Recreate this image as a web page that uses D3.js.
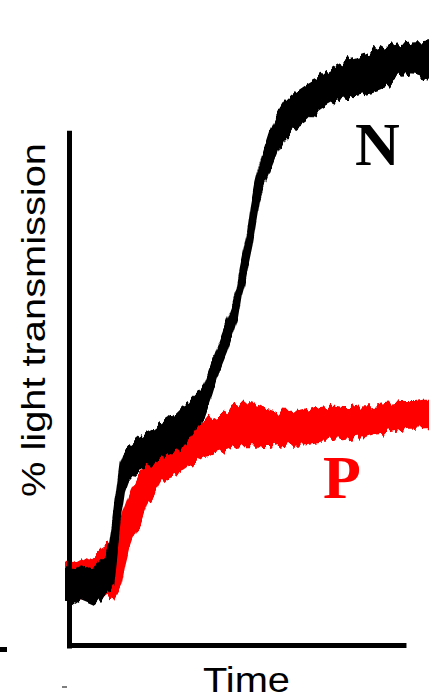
<!DOCTYPE html>
<html>
<head>
<meta charset="utf-8">
<script src="https://cdn.jsdelivr.net/npm/d3@7"></script>
<style>
  body { margin: 0; background: #fff; }
  #container { width: 429px; height: 699px; }
  .axis path { stroke: #000; stroke-width: 5; }
</style>
</head>
<body>
<div id="container"></div>
<script>
let WIDTH = 429;
let HEIGHT = 699;

// time samples (arbitrary units, 0..100)
let time = [0, 2, 4, 6, 8, 10,
  11, 12, 13, 14, 15, 16, 17, 18,
  20, 22, 24, 26, 28, 30, 32, 34, 36, 38, 40, 42, 44, 46,
  47, 48, 49, 50, 51, 52, 53, 54,
  56, 58, 60, 62, 64, 66, 68, 70, 72, 74, 76, 78, 80, 82, 84, 86, 88, 90, 92, 94, 96, 98, 100];

// N trace: upper / lower edge of the noisy band (% light transmission)
let nTop = [12.8, 12.3, 13.2, 12.5, 13.0, 14.2,
  14.8, 16.7, 20.8, 25.8, 30.5, 32.2, 33.0, 33.5,
  34.5, 35.2, 35.8, 36.7, 37.5, 38.5, 39.7, 40.5, 41.7, 43.3, 46.7, 50.0, 53.3, 56.7,
  59.2, 62.8, 65.8, 68.8, 73.3, 76.7, 79.2, 81.7,
  85.5, 88.3, 90.3, 91.5, 92.5, 93.3, 94.0, 94.5, 95.5, 96.2, 96.8, 97.5, 97.8, 98.2, 98.7, 99.2, 99.7, 99.8, 100.0, 100.2, 100.3, 100.3, 100.5];
let nBottom = [7.5, 7.0, 7.8, 7.3, 6.8, 8.2,
  8.5, 9.2, 10.3, 15.8, 21.7, 25.8, 27.5, 28.2,
  29.2, 29.8, 30.3, 31.2, 32.0, 32.5, 33.0, 34.7, 36.5, 38.3, 41.7, 45.8, 48.8, 52.5,
  54.5, 58.3, 60.5, 63.8, 66.7, 70.5, 74.2, 76.2,
  79.3, 82.3, 84.5, 85.8, 86.7, 87.5, 88.7, 89.5, 90.2, 90.8, 91.2, 91.3, 91.7, 92.0, 92.3, 92.7, 93.2, 94.2, 95.2, 95.3, 95.2, 94.8, 94.5];

// P trace
let pTop = [14.2, 13.8, 14.5, 14.0, 15.0, 16.3,
  16.7, 16.7, 16.2, 18.3, 20.0, 22.5, 24.2, 25.8,
  28.3, 29.8, 30.8, 32.2, 33.2, 34.2, 35.0, 36.2, 36.8, 37.5, 37.8, 38.2, 38.8, 39.7,
  39.8, 40.2, 40.2, 40.3, 40.3, 40.0, 39.8, 39.5,
  39.2, 38.8, 38.7, 38.7, 38.5, 38.8, 39.2, 39.5, 39.7, 39.7, 39.5, 39.5, 39.7, 39.8, 39.8, 40.0, 40.2, 40.3, 40.5, 40.5, 40.5, 40.7, 40.7];
let pBottom = [7.8, 7.8, 7.8, 7.8, 7.8, 8.3,
  8.3, 8.0, 7.8, 8.8, 10.0, 13.3, 15.8, 17.5,
  20.0, 23.3, 25.0, 27.2, 28.2, 28.7, 29.2, 30.0, 30.8, 31.5, 31.8, 32.2, 32.5, 33.0,
  33.2, 33.3, 33.3, 33.3, 33.3, 33.2, 33.2, 33.0,
  33.0, 33.3, 33.5, 33.7, 33.7, 33.8, 34.0, 34.2, 34.2, 34.2, 34.3, 34.5, 34.7, 34.8, 35.2, 35.3, 35.5, 35.8, 36.0, 36.2, 36.2, 36.3, 36.3];

let xAxisEnd = 93.4;
let yAxisTop = 85.8;

let svg = d3.select('#container')
  .append('svg')
  .attr('width', WIDTH)
  .attr('height', HEIGHT);

let x = d3.scaleLinear().domain([0, 100]).range([66, 430]);
let y = d3.scaleLinear().domain([0, 100]).range([645, 45]);

// rough vertical noise on the band edges
let defs = svg.append('defs');
let filter = defs.append('filter').attr('id', 'rough')
  .attr('x', '-5%').attr('y', '-5%').attr('width', '110%').attr('height', '110%');
filter.append('feTurbulence')
  .attr('type', 'fractalNoise')
  .attr('baseFrequency', '0.22 0.03')
  .attr('numOctaves', 2)
  .attr('seed', 3)
  .attr('result', 'noise');
filter.append('feColorMatrix')
  .attr('in', 'noise')
  .attr('type', 'matrix')
  .attr('values', '0 0 0 0 0.5  0 1 0 0 0  0 0 0 0 0  0 0 0 0 1')
  .attr('result', 'shift');
filter.append('feDisplacementMap')
  .attr('in', 'SourceGraphic')
  .attr('in2', 'shift')
  .attr('scale', 15)
  .attr('xChannelSelector', 'R')
  .attr('yChannelSelector', 'G');

function band(top, bottom) {
  return d3.area()
    .x((d, i) => x(time[i]))
    .y0((d, i) => y(bottom[i]))
    .y1((d, i) => y(top[i]))(time);
}

svg.append('path')
  .attr('d', band(pTop, pBottom))
  .attr('fill', '#ff0000')
  .attr('stroke', '#ff0000')
  .attr('stroke-width', 2)
  .attr('filter', 'url(#rough)');

svg.append('path')
  .attr('d', band(nTop, nBottom))
  .attr('fill', '#000')
  .attr('stroke', '#000')
  .attr('stroke-width', 2)
  .attr('filter', 'url(#rough)');

// axes: plain lines, no ticks
let xAxisScale = x.copy().domain([0, xAxisEnd]).range([67, x(xAxisEnd)]);
let yAxisScale = y.copy().domain([0, yAxisTop]).range([648, y(yAxisTop)]);

svg.append('g')
  .attr('class', 'axis')
  .attr('transform', 'translate(0,645)')
  .call(d3.axisBottom(xAxisScale).tickValues([]).tickSizeOuter(0));

svg.append('g')
  .attr('class', 'axis')
  .attr('transform', 'translate(69,0)')
  .call(d3.axisLeft(yAxisScale).tickValues([]).tickSizeOuter(0));

svg.append('text')
  .attr('transform', 'translate(45,320) rotate(-90)')
  .attr('text-anchor', 'middle')
  .attr('font-family', 'Liberation Sans, Arial, sans-serif')
  .attr('font-size', 33)
  .attr('textLength', 354)
  .attr('lengthAdjust', 'spacingAndGlyphs')
  .text('% light transmission');

svg.append('text')
  .attr('x', 246.5)
  .attr('y', 692)
  .attr('text-anchor', 'middle')
  .attr('font-family', 'Liberation Sans, Arial, sans-serif')
  .attr('font-size', 35)
  .attr('textLength', 87)
  .attr('lengthAdjust', 'spacingAndGlyphs')
  .text('Time');

svg.append('text')
  .attr('x', 355)
  .attr('y', 165)
  .attr('font-family', 'Liberation Serif, Times New Roman, serif')
  .attr('font-weight', 'bold')
  .attr('font-size', 62)
  .attr('fill', '#000')
  .text('N');

svg.append('text')
  .attr('x', 323)
  .attr('y', 498)
  .attr('font-family', 'Liberation Serif, Times New Roman, serif')
  .attr('font-weight', 'bold')
  .attr('font-size', 62)
  .attr('fill', '#ff0000')
  .text('P');

// stray marks at the lower left of the figure
svg.append('rect').attr('x', 0).attr('y', 647).attr('width', 7).attr('height', 5).attr('fill', '#000');
svg.append('rect').attr('x', 62).attr('y', 686.5).attr('width', 5).attr('height', 1).attr('fill', '#000');
</script>
</body>
</html>
